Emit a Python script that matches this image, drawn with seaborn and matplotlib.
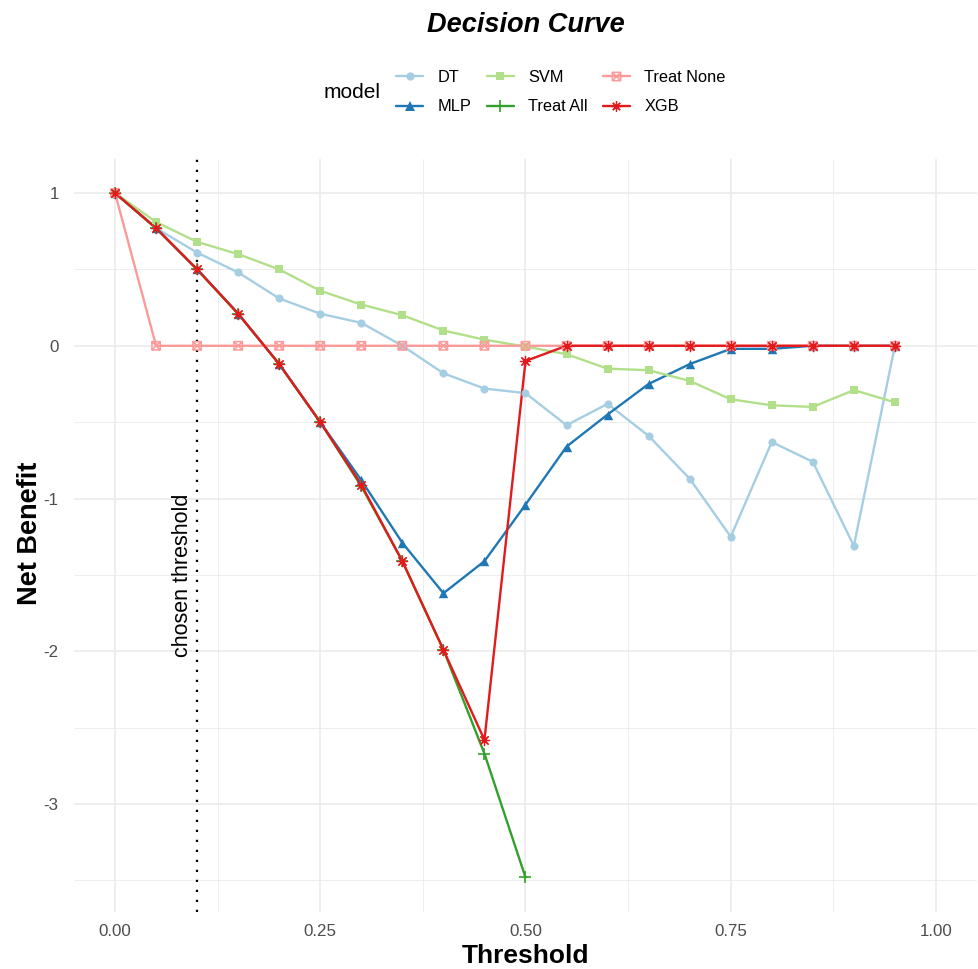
import numpy as np
import pandas as pd
import matplotlib
matplotlib.use("Agg")
import matplotlib.pyplot as plt
from matplotlib.path import Path
from matplotlib.lines import Line2D
import seaborn as sns

# thresholds and net benefit per model
thresholds = [0.00, 0.05, 0.10, 0.15, 0.20, 0.25, 0.30, 0.35, 0.40, 0.45,
              0.50, 0.55, 0.60, 0.65, 0.70, 0.75, 0.80, 0.85, 0.90, 0.95]
dt = [1.00, 0.77, 0.61, 0.48, 0.31, 0.21, 0.15, 0.00, -0.18, -0.28,
      -0.31, -0.52, -0.38, -0.59, -0.87, -1.25, -0.63, -0.76, -1.31, 0.00]
mlp = [1.00, 0.77, 0.50, 0.21, -0.12, -0.50, -0.88, -1.29, -1.62, -1.41,
       -1.04, -0.66, -0.45, -0.25, -0.12, -0.02, -0.02, 0.00, 0.00, 0.00]
svm = [1.00, 0.81, 0.68, 0.60, 0.50, 0.36, 0.27, 0.20, 0.10, 0.04,
       -0.005, -0.055, -0.15, -0.16, -0.23, -0.35, -0.39, -0.40, -0.29, -0.37]
treat_all = [1.00, 0.77, 0.50, 0.21, -0.12, -0.50, -0.92, -1.41, -1.99, -2.67, -3.48]
treat_none = [1.00, 0.00, 0.00, 0.00, 0.00, 0.00, 0.00, 0.00, 0.00, 0.00,
              0.00, 0.00, 0.00, 0.00, 0.00, 0.00, 0.00, 0.00, 0.00, 0.00]
xgb = [1.00, 0.77, 0.50, 0.21, -0.12, -0.50, -0.91, -1.41, -1.99, -2.58,
       -0.10, 0.00, 0.00, 0.00, 0.00, 0.00, 0.00, 0.00, 0.00, 0.00]

models = ["DT", "MLP", "SVM", "Treat All", "Treat None", "XGB"]
values = [dt, mlp, svm, treat_all, treat_none, xgb]
colors = ["#A6CEE3", "#1F78B4", "#B2DF8A", "#33A02C", "#FB9A99", "#E31A1C"]
chosen = 0.10

rows = []
for name, vals in zip(models, values):
    for t, v in zip(thresholds, vals):
        rows.append({"model": name, "threshold": t, "net_benefit": v})
df = pd.DataFrame(rows)

# square with a cross inside (ggplot shape 7)
sq_cross = Path([(-1, -1), (1, -1), (1, 1), (-1, 1), (-1, -1),
                 (-1, -1), (1, 1), (-1, 1), (1, -1)],
                [Path.MOVETO, Path.LINETO, Path.LINETO, Path.LINETO, Path.CLOSEPOLY,
                 Path.MOVETO, Path.LINETO, Path.MOVETO, Path.LINETO])

marker_style = {
    "DT": dict(marker="o", s=34, lw=0, kind="filled"),
    "MLP": dict(marker="^", s=46, lw=0, kind="filled"),
    "SVM": dict(marker="s", s=34, lw=0, kind="filled"),
    "Treat All": dict(marker="+", s=80, lw=1.2, kind="line"),
    "Treat None": dict(marker=sq_cross, s=36, lw=1.1, kind="hollow"),
    "XGB": dict(marker=(8, 2, 0), s=55, lw=0.9, kind="line"),
}

sns.set_style("white")
plt.rcParams["font.family"] = ["Liberation Sans", "DejaVu Sans"]
plt.rcParams["text.color"] = "black"

fig = plt.figure(figsize=(9.79, 9.69), dpi=100)
ax = fig.add_axes([74 / 979, 1 - 911.6 / 969, (977 - 74) / 979, (911.6 - 158.8) / 969])

# lines first (like geom_line), then the points on top
sns.lineplot(data=df, x="threshold", y="net_benefit", hue="model", hue_order=models,
             palette=colors, linewidth=1.7, legend=False, ax=ax, zorder=2)

for name, col in zip(models, colors):
    sub = df[df["model"] == name]
    st = marker_style[name]
    if st["kind"] == "hollow":
        sns.scatterplot(data=sub, x="threshold", y="net_benefit", marker=st["marker"], s=st["s"],
                        facecolor="none", edgecolor=col, linewidth=st["lw"], ax=ax, zorder=3)
    elif st["kind"] == "line":
        sns.scatterplot(data=sub, x="threshold", y="net_benefit", marker=st["marker"], s=st["s"],
                        color=col, linewidth=st["lw"], ax=ax, zorder=3)
    else:
        sns.scatterplot(data=sub, x="threshold", y="net_benefit", marker=st["marker"], s=st["s"],
                        color=col, edgecolor=col, linewidth=0, ax=ax, zorder=3)

ax.axvline(chosen, color="black", linestyle=(0, (1, 3.5)), linewidth=1.6, zorder=2.5)
ax.text(0.082, -1.5, "chosen threshold", rotation=90, ha="center", va="center",
        fontsize=15.5, color="black")

ax.set_xlim(-0.05, 1.05)
ax.set_ylim(-3.704, 1.224)
ax.set_xticks([0, 0.25, 0.5, 0.75, 1.0])
ax.set_xticklabels(["0.00", "0.25", "0.50", "0.75", "1.00"])
ax.set_yticks([-3, -2, -1, 0, 1])
ax.set_yticklabels(["-3", "-2", "-1", "0", "1"])
ax.set_xticks([0.125, 0.375, 0.625, 0.875], minor=True)
ax.set_yticks([-3.5, -2.5, -1.5, -0.5, 0.5], minor=True)
ax.grid(True, which="major", color="#EBEBEB", linewidth=1.2, zorder=0)
ax.grid(True, which="minor", color="#EBEBEB", linewidth=0.6, zorder=0)
ax.set_axisbelow(True)
ax.tick_params(which="both", length=0)
ax.tick_params(axis="x", labelsize=12.2, labelcolor="#4D4D4D", pad=9)
ax.tick_params(axis="y", labelsize=12.2, labelcolor="#4D4D4D", pad=11)
for sp in ax.spines.values():
    sp.set_visible(False)
ax.set_xlabel("")
ax.set_ylabel("")

fig.text(525.5 / 979, 1 - 25 / 969, "Decision Curve", ha="center", va="center",
         fontsize=19.5, fontweight="bold", fontstyle="italic", color="black")
fig.text(525.5 / 979, 1 - 968 / 969, "Threshold", ha="center", va="bottom",
         fontsize=19, fontweight="bold", color="black")
fig.text(30 / 979, 1 - 533 / 969, "Net Benefit", ha="center", va="center",
         rotation=90, fontsize=19.5, fontweight="bold", color="black")

# legend
handles = []
for name, col in zip(models, colors):
    st = marker_style[name]
    if st["kind"] == "hollow":
        h = Line2D([], [], color=col, linewidth=1.7, marker=st["marker"], markersize=6,
                   markerfacecolor="none", markeredgecolor=col, markeredgewidth=st["lw"])
    elif st["kind"] == "line":
        h = Line2D([], [], color=col, linewidth=1.7, marker=st["marker"],
                   markersize=np.sqrt(st["s"]), markeredgewidth=st["lw"])
    else:
        h = Line2D([], [], color=col, linewidth=1.7, marker=st["marker"],
                   markersize=6.5 if st["marker"] == "^" else 6, markeredgewidth=0)
    handles.append(h)

leg = fig.legend(handles, models, ncol=3, loc="center", bbox_to_anchor=(561 / 979, 1 - 92 / 969),
                 frameon=False, fontsize=11.8, handlelength=1.65, handletextpad=0.9,
                 columnspacing=0.9, labelspacing=0.9)
for t in leg.get_texts():
    t.set_color("black")
fig.text(352 / 979, 1 - 93 / 969, "model", ha="center", va="center", fontsize=15, color="black")

fig.savefig("out.png", dpi=100)
